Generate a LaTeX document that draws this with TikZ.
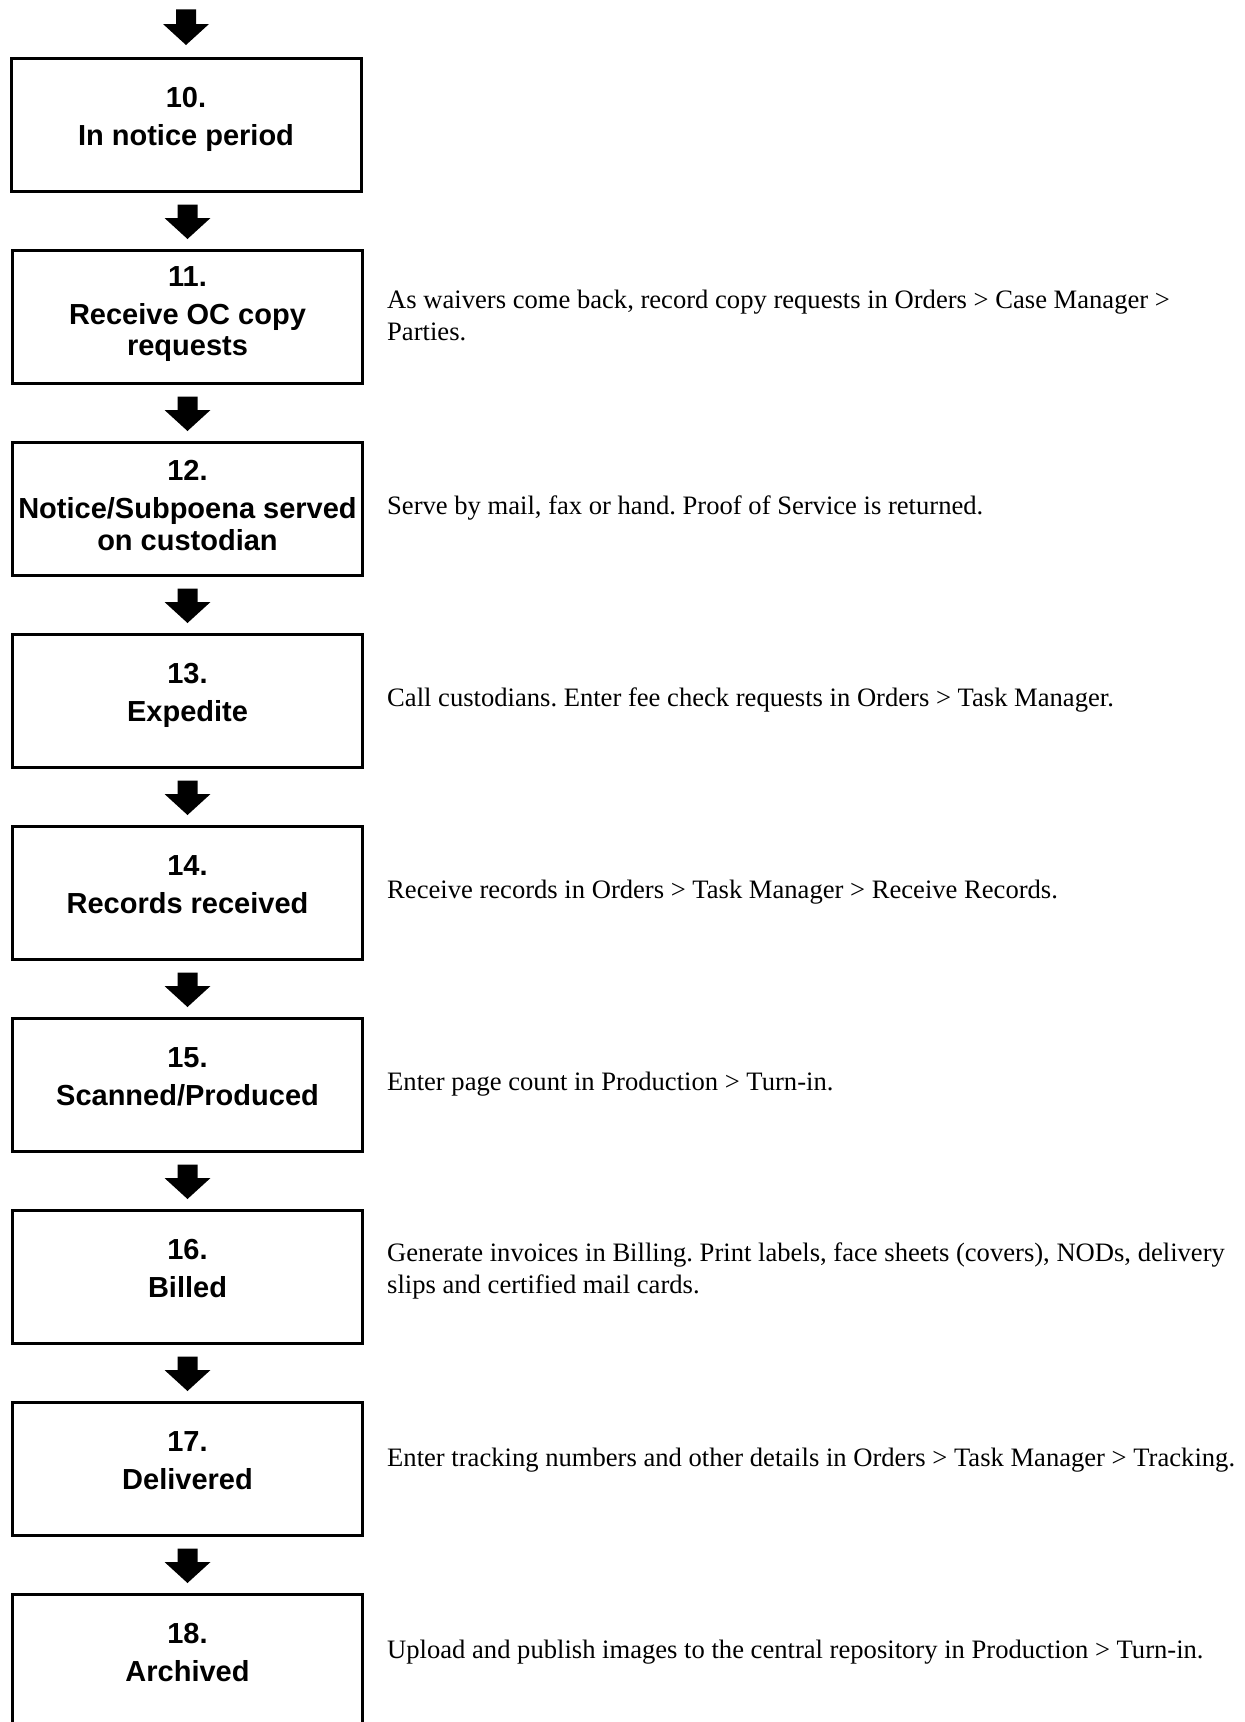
\documentclass[tikz,border=0pt]{standalone}
\usepackage{fontspec}
\setmainfont{Liberation Serif}
\setsansfont{Liberation Sans}
\usetikzlibrary{calc}
\frenchspacing
\begin{document}
\begin{tikzpicture}[x=1pt,y=-1pt,
  stepbox/.style={draw=black, line width=3pt, minimum width=350pt, minimum height=133pt, inner sep=0pt, anchor=north west},
  boxtext/.style={inner sep=0pt, anchor=base, font=\sffamily\bfseries\fontsize{29}{31.5}\selectfont},
  desc/.style={inner sep=0pt, anchor=base west, font=\fontsize{26.6}{32}\selectfont},
  flow/.style={to path={
    let \p1=(\tikztostart), \p2=(\tikztotarget) in
    (\x2-10pt,\y1) -- (\x2+10pt,\y1) -- (\x2+10pt,\y2+21pt) -- (\x2+23pt,\y2+21pt)
    -- (\x2,\y2) -- (\x2-23pt,\y2+21pt) -- (\x2-10pt,\y2+21pt) -- cycle}},
  arrowfill/.style={fill=black, draw=none}]
\useasboundingbox (0,0) rectangle (1245,1722);

% boxes
\node[stepbox] (b10) at (9.5,57) {};
\node[stepbox] (b11) at (11,249) {};
\node[stepbox] (b12) at (11,441) {};
\node[stepbox] (b13) at (11,633) {};
\node[stepbox] (b14) at (11,825) {};
\node[stepbox] (b15) at (11,1017) {};
\node[stepbox] (b16) at (11,1209) {};
\node[stepbox] (b17) at (11,1401) {};
\node[stepbox] (b18) at (11,1593) {};

% box texts
\node[boxtext] (t10) at ([yshift=-50pt]b10.north) {\begin{tabular}[t]{@{}c@{}}10.\\[6.5pt]In notice period\end{tabular}};
\node[boxtext] (t11) at ([yshift=-37pt]b11.north) {\begin{tabular}[t]{@{}c@{}}11.\\[6.5pt]Receive OC copy\\requests\end{tabular}};
\node[boxtext] (t12) at ([yshift=-39.5pt]b12.north) {\begin{tabular}[t]{@{}c@{}}12.\\[6.5pt]Notice/Subpoena served\\on custodian\end{tabular}};
\node[boxtext] (t13) at ([yshift=-50pt]b13.north) {\begin{tabular}[t]{@{}c@{}}13.\\[6.5pt]Expedite\end{tabular}};
\node[boxtext] (t14) at ([yshift=-50pt]b14.north) {\begin{tabular}[t]{@{}c@{}}14.\\[6.5pt]Records received\end{tabular}};
\node[boxtext] (t15) at ([yshift=-50pt]b15.north) {\begin{tabular}[t]{@{}c@{}}15.\\[6.5pt]Scanned/Produced\end{tabular}};
\node[boxtext] (t16) at ([yshift=-50pt]b16.north) {\begin{tabular}[t]{@{}c@{}}16.\\[6.5pt]Billed\end{tabular}};
\node[boxtext] (t17) at ([yshift=-50pt]b17.north) {\begin{tabular}[t]{@{}c@{}}17.\\[6.5pt]Delivered\end{tabular}};
\node[boxtext] (t18) at ([yshift=-50pt]b18.north) {\begin{tabular}[t]{@{}c@{}}18.\\[6.5pt]Archived\end{tabular}};

% descriptions
\node[desc] (d11) at (387,308.5) {\begin{tabular}[t]{@{}l@{}}As waivers come back, record copy requests in Orders > Case Manager >\\Parties.\end{tabular}};
\node[desc] (d12) at (387,514) {Serve by mail, fax or hand. Proof of Service is returned.};
\node[desc] (d13) at (387,706) {Call custodians. Enter fee check requests in Orders > Task Manager.};
\node[desc] (d14) at (387,898) {Receive records in Orders > Task Manager > Receive Records.};
\node[desc] (d15) at (387,1090) {Enter page count in Production > Turn-in.};
\node[desc] (d16) at (387,1261.5) {\begin{tabular}[t]{@{}l@{}}Generate invoices in Billing. Print labels, face sheets (covers), NODs, delivery\\slips and certified mail cards.\end{tabular}};
\node[desc] (d17) at (387,1466) {Enter tracking numbers and other details in Orders > Task Manager > Tracking.};
\node[desc] (d18) at (387,1658) {Upload and publish images to the central repository in Production > Turn-in.};

% arrows
\coordinate (s0) at (185,9.3);
\fill[arrowfill] (s0) to[flow] ([yshift=12pt]b10.north);
\fill[arrowfill] ([yshift=-11.5pt]b10.south) to[flow] ([yshift=10pt]b11.north);
\fill[arrowfill] ([yshift=-11.5pt]b11.south) to[flow] ([yshift=10pt]b12.north);
\fill[arrowfill] ([yshift=-11.5pt]b12.south) to[flow] ([yshift=10pt]b13.north);
\fill[arrowfill] ([yshift=-11.5pt]b13.south) to[flow] ([yshift=10pt]b14.north);
\fill[arrowfill] ([yshift=-11.5pt]b14.south) to[flow] ([yshift=10pt]b15.north);
\fill[arrowfill] ([yshift=-11.5pt]b15.south) to[flow] ([yshift=10pt]b16.north);
\fill[arrowfill] ([yshift=-11.5pt]b16.south) to[flow] ([yshift=10pt]b17.north);
\fill[arrowfill] ([yshift=-11.5pt]b17.south) to[flow] ([yshift=10pt]b18.north);
\end{tikzpicture}
\end{document}
